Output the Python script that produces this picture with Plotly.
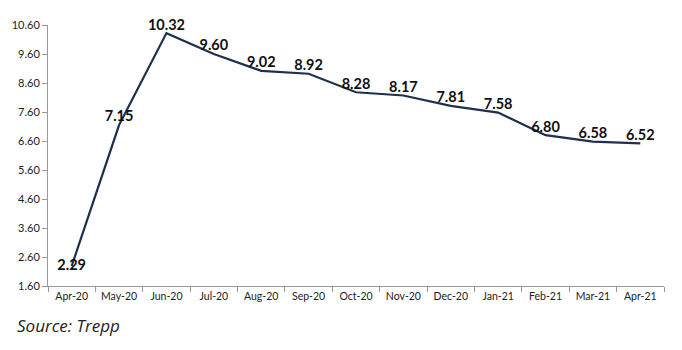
import plotly.graph_objects as go

months = ["Apr-20", "May-20", "Jun-20", "Jul-20", "Aug-20", "Sep-20", "Oct-20",
          "Nov-20", "Dec-20", "Jan-21", "Feb-21", "Mar-21", "Apr-21"]
values = [2.29, 7.15, 10.32, 9.60, 9.02, 8.92, 8.28, 8.17, 7.81, 7.58, 6.80, 6.58, 6.52]
y_ticks = [1.6, 2.6, 3.6, 4.6, 5.6, 6.6, 7.6, 8.6, 9.6, 10.6]

positions = ["middle center"] + ["top center"] * (len(values) - 1)

fig = go.Figure()
fig.add_trace(go.Scatter(
    x=months, y=values, mode="lines+text",
    line=dict(color="#1f2f4f", width=2.2),
    text=[f"{v:.2f}" for v in values],
    textposition=positions,
    textfont=dict(family="Lato, Open Sans, sans-serif", size=14.5, color="#111111"),
    texttemplate="<b>%{text}</b>",
    hoverinfo="skip",
    cliponaxis=False,
))

fig.update_layout(
    width=682, height=350,
    margin=dict(l=44, r=18, t=25, b=64),
    plot_bgcolor="white", paper_bgcolor="white",
    showlegend=False,
    font=dict(family="Lato, Open Sans, sans-serif", color="#222222", size=11),
)
fig.update_xaxes(
    type="category", range=[-0.5, 12.5],
    showline=True, linecolor="#9a9a9a", linewidth=1,
    showgrid=False, ticks="outside", tickson="boundaries",
    ticklen=5, tickcolor="#9a9a9a", tickangle=0,
    tickfont=dict(size=10.5, color="#222222"),
)
fig.update_yaxes(
    range=[1.6, 10.6], tickvals=y_ticks, tickformat=".2f",
    showline=True, linecolor="#9a9a9a", linewidth=1,
    showgrid=False, zeroline=False, ticks="outside", ticklen=5, tickcolor="#9a9a9a",
    tickfont=dict(size=11, color="#222222"),
)
fig.add_annotation(
    text="<i>Source: Trepp</i>", xref="paper", yref="paper",
    x=-33/620, y=-39/261, xanchor="left", yanchor="middle", showarrow=False,
    font=dict(family="Open Sans, sans-serif", size=17, color="#222222"),
)

fig.write_html("out.html")
